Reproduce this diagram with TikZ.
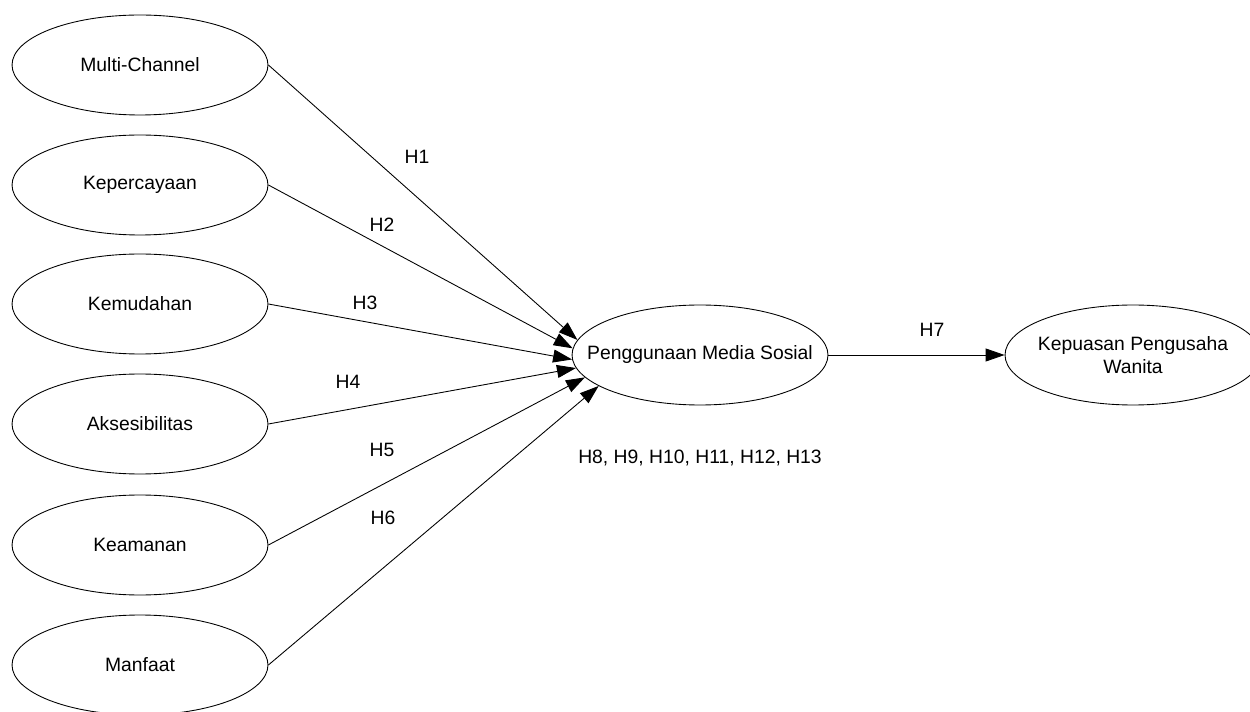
\documentclass[tikz,border=0pt]{standalone}
\usepackage{fontspec}
\setmainfont{Liberation Sans}
\usetikzlibrary{shapes.geometric,arrows.meta}
\begin{document}
\begin{tikzpicture}[x=0.02cm,y=-0.02cm,
  construct/.style={draw,ellipse,line width=0.5pt,minimum width=5.12cm,minimum height=2cm,inner sep=0pt,align=center,font=\fontsize{11}{13}\selectfont},
  inside/.style={label={[align=center,font=\fontsize{11}{13}\selectfont]center:#1}},
  hyp/.style={font=\fontsize{11}{13}\selectfont},
  path/.style={line width=0.5pt,-{Triangle[length=0.38cm,width=0.26cm]}}]
\useasboundingbox (0,0) rectangle (1250,712);
\node[construct] (mc) at (140,65) {Multi-Channel};
\node[construct] (kp) at (140,185) {Kepercayaan};
\node[construct] (km) at (140,304) {Kemudahan};
\node[construct] (ak) at (140,424) {Aksesibilitas};
\node[construct] (ka) at (140,545) {Keamanan};
\node[construct] (mf) at (140,665) {Manfaat};
% long texts as labels, so the ellipse keeps its size
\node[construct,inside={Penggunaan Media Sosial}] (pm) at (700,355) {};
\node[construct,inside={Kepuasan Pengusaha\\Wanita}] (kw) at (1133,355) {};
\draw[path] (mc.east) -- (pm.173);
\draw[path] (kp.east) -- (pm.177);
\draw[path] (km.east) -- (pm.182);
\draw[path] (ak.east) -- (pm.186);
\draw[path] (ka.east) -- (pm.191);
\draw[path] (mf.east) -- (pm.197);
\draw[path] (pm.east) -- (kw.west);
\node[hyp] (h1) at (417,157) {H1};
\node[hyp] (h2) at (382,225) {H2};
\node[hyp] (h3) at (365,303) {H3};
\node[hyp] (h4) at (348,382) {H4};
\node[hyp] (h5) at (382,450) {H5};
\node[hyp] (h6) at (383,518) {H6};
\node[hyp] (h7) at (932,330) {H7};
\node[hyp] (h8) at (700,458) {H8, H9, H10, H11, H12, H13};
\end{tikzpicture}
\end{document}
